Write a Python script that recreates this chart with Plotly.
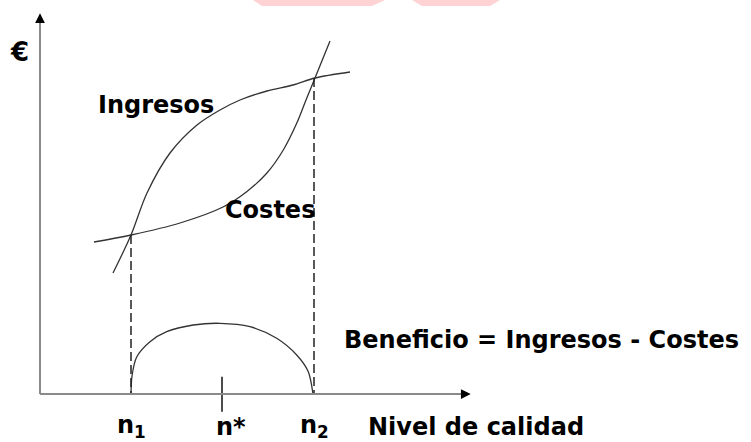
import plotly.graph_objects as go

# ---------------- data (abstract units: quality on x, euros on y) ----------------
n_labels = ["n<sub>1</sub>", "n*", "n<sub>2</sub>"]
n_values = [9.1, 18.2, 27.4]          # n1, n*, n2

ingresos_x = [7.3, 9.1, 10.7, 13.0, 15.7, 18.0, 20.0, 22.7, 25.3, 27.5, 31.0]
ingresos_y = [12.1, 15.9, 20.1, 24.1, 26.9, 28.4, 29.4, 30.3, 30.9, 31.6, 32.2]

costes_x = [5.4, 9.1, 14.0, 18.3, 20.67, 22.67, 24.33, 25.67, 26.6, 27.5, 29.0]
costes_y = [15.2, 15.9, 17.1, 18.7, 20.23, 22.07, 24.4, 27.07, 29.4, 31.6, 35.3]

beneficio_x = [9.1, 9.2, 9.67, 11.0, 12.67, 15.33, 18.0, 21.0, 23.67, 25.67, 26.83, 27.3]
beneficio_y = [0.0, 1.8, 3.7, 5.23, 6.23, 6.9, 7.07, 6.73, 5.57, 3.9, 2.23, 0.0]

cross_y = [15.9, 31.6]                # revenue = cost at n1 and n2
x_axis_end = 43.07
y_axis_end = 38.07
nstar_tick = [1.73, -1.77]

# faint watermark remnants at top edge
wm1_x = [21.3, 34.5, 33.2, 22.2]
wm2_x = [37.2, 46.0, 45.0, 38.2]
wm_y = [39.4, 39.4, 38.8, 38.8]

FONT = "DejaVu Sans"
CURVE = "#333333"

fig = go.Figure()

# Ingresos / Costes curves
fig.add_trace(go.Scatter(x=ingresos_x, y=ingresos_y, mode="lines",
                         line=dict(color=CURVE, width=1.3, shape="spline", smoothing=0.9),
                         hoverinfo="skip"))
fig.add_trace(go.Scatter(x=costes_x, y=costes_y, mode="lines",
                         line=dict(color=CURVE, width=1.3, shape="spline", smoothing=0.9),
                         hoverinfo="skip"))
# Beneficio arc
fig.add_trace(go.Scatter(x=beneficio_x, y=beneficio_y, mode="lines",
                         line=dict(color=CURVE, width=1.3, shape="spline", smoothing=0.8),
                         hoverinfo="skip"))

# dashed verticals at n1, n2
for xv, yv in zip([n_values[0], n_values[2]], cross_y):
    fig.add_trace(go.Scatter(x=[xv, xv], y=[yv, 0], mode="lines",
                             line=dict(color="#222222", width=1.5, dash="9px,4px"),
                             hoverinfo="skip"))

# n* tick
fig.add_trace(go.Scatter(x=[n_values[1], n_values[1]], y=nstar_tick, mode="lines",
                         line=dict(color="#111111", width=1.5), hoverinfo="skip"))

# axes lines
fig.add_trace(go.Scatter(x=[0, x_axis_end - 0.6], y=[0, 0], mode="lines",
                         line=dict(color="#8a8a8a", width=2), hoverinfo="skip"))
fig.add_trace(go.Scatter(x=[0, 0], y=[0, y_axis_end - 0.6], mode="lines",
                         line=dict(color="#8a8a8a", width=2), hoverinfo="skip"))

# watermark
for wx in (wm1_x, wm2_x):
    fig.add_trace(go.Scatter(x=wx + [wx[0]], y=wm_y + [wm_y[0]], mode="lines",
                             fill="toself", fillcolor="#ffd3d3",
                             line=dict(color="#ffd3d3", width=0), hoverinfo="skip"))

annotations = [
    # arrow heads
    dict(x=x_axis_end, y=0, ax=x_axis_end - 0.9, ay=0, xref="x", yref="y", axref="x", ayref="y",
         showarrow=True, arrowhead=2, arrowsize=1.3, arrowwidth=1.5, arrowcolor="#000000",
         standoff=0, text=""),
    dict(x=0, y=y_axis_end, ax=0, ay=y_axis_end - 0.9, xref="x", yref="y", axref="x", ayref="y",
         showarrow=True, arrowhead=2, arrowsize=1.3, arrowwidth=1.5, arrowcolor="#000000",
         standoff=0, text=""),
    # labels
    dict(x=-2.1, y=34.2, text="<b>€</b>", font=dict(family=FONT, size=26, color="#000")),
    dict(x=5.6, y=28.9, text="<b>Ingresos</b>", xanchor="left"),
    dict(x=18.25, y=18.4, text="<b>Costes</b>", xanchor="left"),
    dict(x=30.2, y=5.4, text="<b>Beneficio = Ingresos - Costes</b>", xanchor="left"),
    dict(x=32.6, y=-3.26, text="<b>Nivel de calidad</b>", xanchor="left"),
]
shifts = [0, 9, 0]
for lab, xv, sh in zip(n_labels, n_values, shifts):
    annotations.append(dict(x=xv, y=-3.26, text="<b>" + lab + "</b>", xanchor="center", xshift=sh))

for a in annotations:
    a.setdefault("xref", "x")
    a.setdefault("yref", "y")
    a.setdefault("showarrow", False)
    a.setdefault("yanchor", "middle")
    a.setdefault("font", dict(family=FONT, size=24, color="#000"))

fig.update_layout(
    width=751, height=442, autosize=False,
    margin=dict(l=0, r=0, t=0, b=0),
    paper_bgcolor="white", plot_bgcolor="white",
    showlegend=False,
    xaxis=dict(range=[-4.0, 71.1], visible=False, fixedrange=True),
    yaxis=dict(range=[-4.8, 39.4], visible=False, fixedrange=True),
    annotations=annotations,
)

fig.write_html("out.html", config={"displayModeBar": False},
               post_script="document.body.style.margin='0';document.body.style.overflow='hidden';")
